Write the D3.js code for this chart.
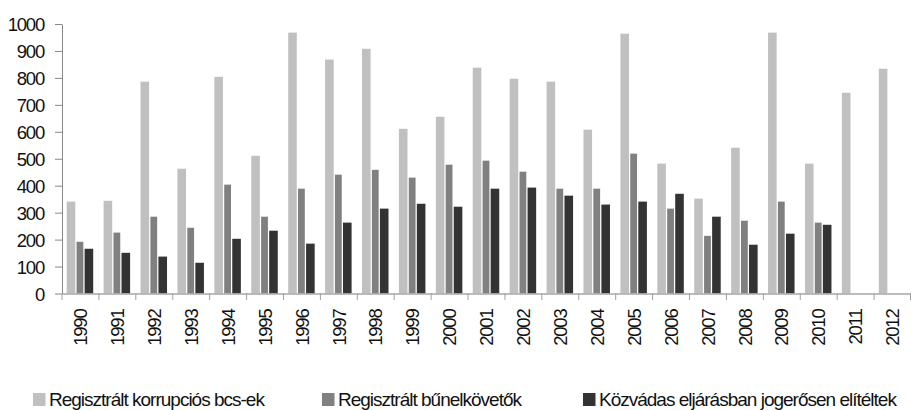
<!DOCTYPE html>
<html>
<head>
<meta charset="utf-8">
<script src="https://cdn.jsdelivr.net/npm/d3@7"></script>
<style>
  html, body { margin: 0; padding: 0; background: #fff; }
  svg { display: block; font-family: "Liberation Sans", Arial, sans-serif; }
</style>
</head>
<body>
<svg id="chart" width="911" height="410"></svg>
<script>
const years = ["1990","1991","1992","1993","1994","1995","1996","1997","1998","1999","2000","2001","2002","2003","2004","2005","2006","2007","2008","2009","2010","2011","2012"];
const seriesNames = ["Regisztrált korrupciós bcs-ek", "Regisztrált bűnelkövetők", "Közvádas eljárásban jogerősen elítéltek"];
const korrupciosBcs = [341, 344, 786, 463, 804, 511, 968, 868, 908, 611, 656, 838, 797, 786, 608, 964, 482, 352, 541, 968, 482, 745, 834];
const bunelkovetok  = [192, 226, 285, 244, 404, 285, 389, 441, 459, 430, 478, 493, 452, 389, 389, 519, 315, 214, 270, 341, 263, null, null];
const elitelt       = [166, 151, 137, 114, 203, 233, 185, 263, 315, 333, 322, 389, 393, 363, 330, 341, 370, 285, 181, 222, 255, null, null];
const yTicks = [0, 100, 200, 300, 400, 500, 600, 700, 800, 900, 1000];

const colors = ["#c0c0c0", "#808080", "#333333"];
const seriesData = [korrupciosBcs, bunelkovetok, elitelt];

const svg = d3.select("#chart");

const x = d3.scaleBand().domain(years).range([62, 911]).padding(0);
const x1 = d3.scaleBand().domain([0, 1, 2]).range([4.7, 31.2]).paddingInner(0.04);
const y = d3.scaleLinear().domain([0, 1000]).range([293.5, 24]);

// bars
const insets = [0, 0.9, 0];
const groups = svg.append("g").selectAll("g")
  .data(years)
  .join("g")
  .attr("transform", d => `translate(${x(d)},0)`);

groups.selectAll("rect")
  .data((d, i) => seriesData.map((s, k) => ({ k, v: s[i] })).filter(o => o.v != null))
  .join("rect")
  .attr("x", o => x1(o.k) + insets[o.k])
  .attr("width", o => x1.bandwidth() - 2 * insets[o.k])
  .attr("y", o => y(o.v))
  .attr("height", o => y(0) - y(o.v))
  .attr("fill", o => colors[o.k]);

// y axis
const yAxis = svg.append("g")
  .attr("transform", "translate(62,0)")
  .call(d3.axisLeft(y).tickValues(yTicks).tickFormat(d3.format("d")).tickSize(7).tickPadding(11).tickSizeOuter(0));
yAxis.select(".domain").attr("stroke", "#888");
yAxis.selectAll(".tick line").attr("stroke", "#888");
yAxis.selectAll(".tick text")
  .attr("fill", "#111")
  .style("font-size", "18.5px")
  .style("letter-spacing", "-1.2px")
  .attr("dy", "0.36em");

// x axis
const xAxis = svg.append("g")
  .attr("transform", `translate(0,${y(0)})`)
  .call(d3.axisBottom(x).tickSize(0).tickSizeOuter(0));
xAxis.select(".domain").attr("stroke", "#a6a6a6").attr("stroke-width", 1.5);
xAxis.selectAll(".tick text")
  .attr("fill", "#111")
  .style("font-size", "18.5px")
  .style("letter-spacing", "-1.2px")
  .attr("text-anchor", "end")
  .attr("transform", "rotate(-90)")
  .attr("x", -16)
  .attr("y", 0)
  .attr("dy", "0.36em");

// x boundary ticks
const bounds = years.map(d => x(d)).concat([x.range()[1] - 0.5]);
svg.append("g").selectAll("line")
  .data(bounds)
  .join("line")
  .attr("x1", d => d).attr("x2", d => d)
  .attr("y1", y(0)).attr("y2", y(0) + 6.5)
  .attr("stroke", "#a0a0a0");

// legend
const legendX = [33, 322, 583];
const legend = svg.append("g").selectAll("g")
  .data(seriesNames)
  .join("g")
  .attr("transform", (d, i) => `translate(${legendX[i]},393)`);
legend.append("rect")
  .attr("width", 12.5).attr("height", 13)
  .attr("fill", (d, i) => colors[i]);
legend.append("text")
  .attr("x", 16)
  .attr("y", 13.4)
  .attr("fill", "#111")
  .style("font-size", "19px")
  .style("letter-spacing", "-1px")
  .text(d => d);
</script>
</body>
</html>
